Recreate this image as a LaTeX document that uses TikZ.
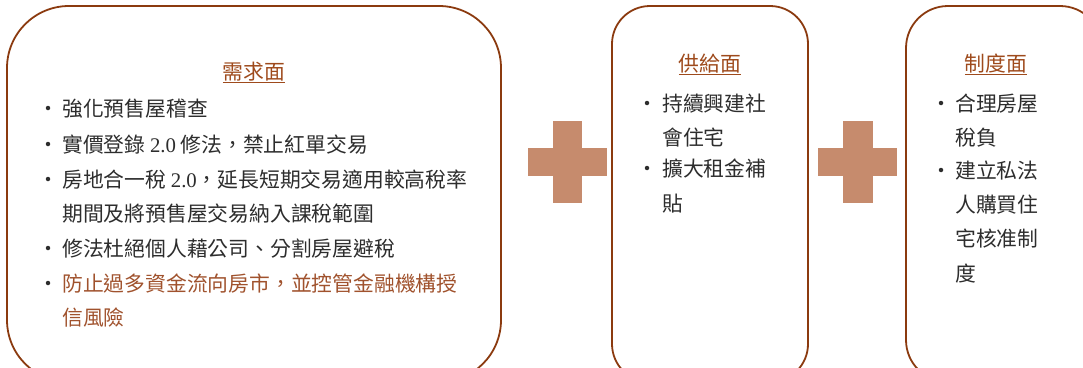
\documentclass[tikz,border=0pt]{standalone}
\usepackage{fontspec}
\setmainfont{Liberation Serif}
\newfontfamily\cjk{Noto Sans CJK TC}
\definecolor{bordercol}{RGB}{139,58,15}
\definecolor{titlecol}{RGB}{158,74,28}
\definecolor{bodycol}{RGB}{45,45,45}
\definecolor{hicol}{RGB}{160,82,45}
\definecolor{crosscol}{RGB}{198,139,109}
\tikzset{
  panel/.style={draw=bordercol, line width=1.8pt},
  ttl/.style={inner sep=0pt, anchor=base, text=titlecol, font=\fontsize{20.8}{24}\cjk},
  txt/.style={inner sep=0pt, anchor=base west, text=bodycol, font=\fontsize{20.8}{24}\cjk},
  hitxt/.style={txt, text=hicol},
  dot/.style={circle, fill=bodycol, inner sep=0pt, minimum size=4.5pt},
  crossbar/.style={fill=crosscol, draw=none}
}
\begin{document}
\begin{tikzpicture}[x=1pt,y=-1pt]
\useasboundingbox (0,0) rectangle (1083,367);
\clip (0,0) rectangle (1083,367);
% panels
\draw[panel, rounded corners=62pt] (7,6) rectangle (501,382);
\draw[panel, rounded corners=38pt] (612,6) rectangle (808,382);
\draw[panel, rounded corners=42pt] (906,6) rectangle (1102,382);
% crosses
\fill[crossbar] (528,148) rectangle (607,176);
\fill[crossbar] (553,121) rectangle (582,203);
\fill[crossbar] (818,148) rectangle (897,176);
\fill[crossbar] (843,121) rectangle (873,203);
% box 1
\node[ttl] (t1) at (254,79) {\underline{需求面}};
\node[dot] (b11) at (48,108) {};
\node[txt] (l11) at (62,116) {強化預售屋稽查};
\node[dot] (b12) at (48,144) {};
\node[txt] (l12) at (62,152) {實價登錄 {\rmfamily 2.0} 修法，禁止紅單交易};
\node[dot] (b13) at (48,179) {};
\node[txt] (l13) at (62,187) {房地合一稅 {\rmfamily 2.0}，延長短期交易適用較高稅率};
\node[txt] (l13b) at (62,221) {期間及將預售屋交易納入課稅範圍};
\node[dot] (b14) at (48,248) {};
\node[txt] (l14) at (62,256) {修法杜絕個人藉公司、分割房屋避稅};
\node[dot] (b15) at (48,283) {};
\node[hitxt] (l15) at (62,291) {防止過多資金流向房市，並控管金融機構授};
\node[hitxt] (l15b) at (62,325) {信風險};
% box 2
\node[ttl] (t2) at (710,71) {\underline{供給面}};
\node[dot] (b21) at (647,103) {};
\node[txt] (l21) at (662,111) {持續興建社};
\node[txt] (l21b) at (662,145) {會住宅};
\node[dot] (b22) at (647,168) {};
\node[txt] (l22) at (662,176) {擴大租金補};
\node[txt] (l22b) at (662,211) {貼};
% box 3
\node[ttl] (t3) at (996,71) {\underline{制度面}};
\node[dot] (b31) at (941,103) {};
\node[txt] (l31) at (955,111) {合理房屋};
\node[txt] (l31b) at (955,145) {稅負};
\node[dot] (b32) at (941,170) {};
\node[txt] (l32) at (955,178) {建立私法};
\node[txt] (l32b) at (955,212) {人購買住};
\node[txt] (l32c) at (955,246) {宅核准制};
\node[txt] (l32d) at (955,281) {度};
\end{tikzpicture}
\end{document}
